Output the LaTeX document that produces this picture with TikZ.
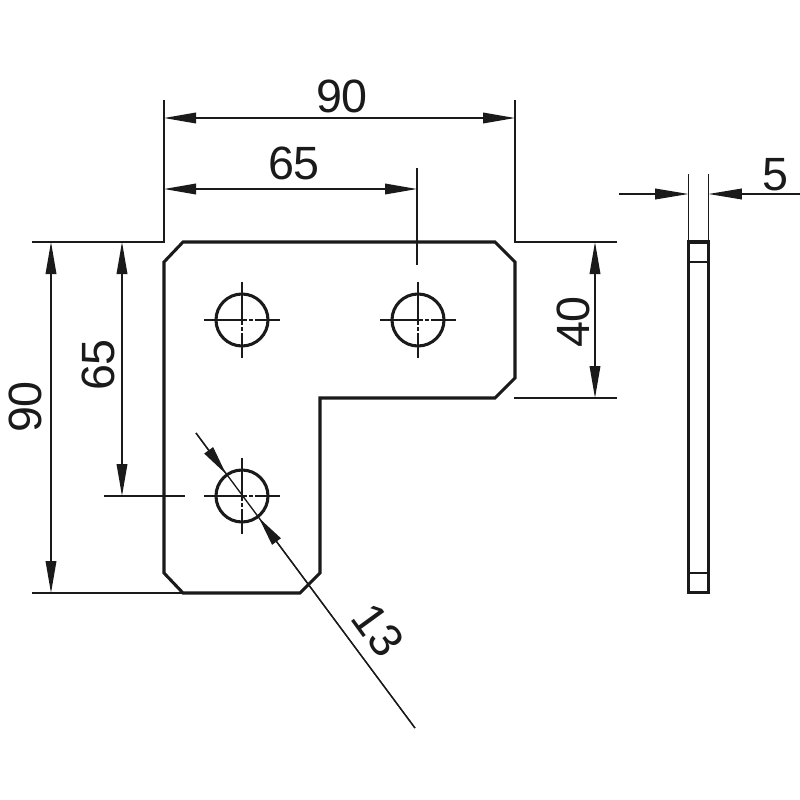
\documentclass[tikz,border=0pt]{standalone}
\usepackage{fontspec}
\setmainfont{Liberation Sans}
\usetikzlibrary{arrows.meta, positioning, calc}
\definecolor{inkblack}{HTML}{1A1A1A}

\begin{document}
\begin{tikzpicture}[
    x=0.75pt, y=-0.75pt,
    plate/.style={draw=inkblack, line width=2.3pt, line join=miter},
    bore/.style={circle, draw=inkblack, line width=2.3pt, minimum size=39pt, inner sep=0pt},
    thin/.style={draw=inkblack, line width=1pt},
    centre/.style={draw=inkblack, line width=0.9pt, dash pattern=on 32pt off 2pt on 2.5pt off 2pt on 32pt},
    dim/.style={thin, {Triangle[length=24pt,width=8pt]}-{Triangle[length=24pt,width=8pt]}},
    tip/.style={thin, -{Triangle[length=#1,width=8pt]}},
    size/.style={font=\fontsize{35}{35}\selectfont, text=inkblack, inner sep=0pt}
]
\path[use as bounding box, fill=white] (0,0) rectangle (800,800);

% Plate
\draw[plate] (183,242) -- (495,242) -- (515,262) -- (515,378) -- (495,398) -- (320,398)
    -- (320,573) -- (300,593) -- (183,593) -- (164,573) -- (164,262) -- cycle;

% Holes
\node[bore] (hole1) at (242,320) {};
\node[bore] (hole2) at (418,320) {};
\node[bore] (hole3) at (242,496) {};

\foreach \h in {hole1,hole2,hole3} {
    \draw[centre] ($(\h.center)+(-38,0)$) -- ($(\h.center)+(38,0)$);
    \draw[centre] ($(\h.center)+(0,-38)$) -- ($(\h.center)+(0,38)$);
}

% Side view
\node[plate, minimum width=15pt, minimum height=263pt, inner sep=0pt, outer sep=0pt, anchor=north west] (side) at (688.5,242) {};
\draw[plate, line width=1.6pt] ($(side.north west)+(0,20)$) -- ($(side.north east)+(0,20)$);
\draw[plate, line width=1.6pt] ($(side.south west)+(0,-20)$) -- ($(side.south east)+(0,-20)$);

% Extension lines
\coordinate (topL) at (164,100);
\coordinate (topR) at (515,100);
\draw[thin] (32,242) -- (164,242) -- (topL);
\draw[thin] (topR) -- (515,242) -- (617,242);
\draw[thin] (417,168) -- (417,265);
\draw[thin] (32,593) -- (183,593);
\draw[thin] (104,496) -- (185,496);
\draw[thin] (514,398) -- (617,398);
\draw[thin] (side.north west) ++(0,-68) -- (side.north west);
\draw[thin] (side.north east) ++(0,-68) -- (side.north east);

% Dimensions
\draw[dim] (164,118) -- (515,118);
\node[size] (w90) at (342,96) {90};
\draw[dim] (164,189) -- (417,189);
\node[size] (w65) at (294,163) {65};
\draw[dim] (51,242) -- (51,593);
\node[size, rotate=90] (h90) at (25,407) {90};
\draw[dim] (122,242) -- (122,496);
\node[size, rotate=90] (h65) at (98,365) {65};
\draw[dim] (595,242) -- (595,398);
\node[size, rotate=90] (h40) at (573,322) {40};

% Thickness
\coordinate (tL) at (619,194);
\coordinate (tR) at (800,194);
\draw[tip=25pt] (tL) -- (side.north west |- tL);
\draw[tip=25pt] (tR) -- (side.north east |- tR);
\node[size] (t5) at (775,175) {5};

% Diameter
\coordinate (dA) at (196,433);
\coordinate (dB) at (415,728);
\draw[thin] (dA) -- (dB);
\draw[tip=22pt] (dA) -- (226,474);
\draw[tip=22pt] (dB) -- (259,518);
\node[size, rotate=-54] (d13) at (378,630) {13};

\end{tikzpicture}
\end{document}
